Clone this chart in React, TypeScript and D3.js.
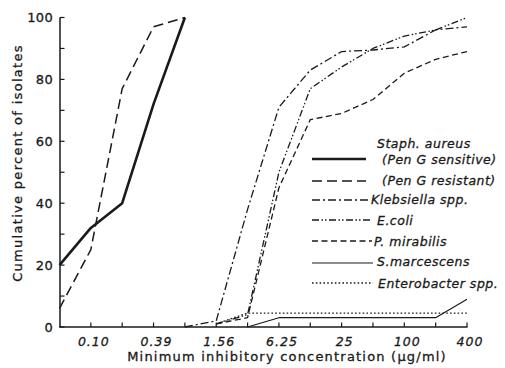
import React from "react";
import * as d3 from "d3";

const concentrations = ["0.05", "0.10", "0.20", "0.39", "0.78", "1.56", "3.12", "6.25", "12.5", "25", "50", "100", "200", "400"];
const xTickLabels = ["0.10", "0.39", "1.56", "6.25", "25", "100", "400"];
const yTicksMajor = [0, 20, 40, 60, 80, 100];
const yTicksMinor = [10, 30, 50, 70, 90];

const staphSensitive = [20, 32, 40, 72, 100, null, null, null, null, null, null, null, null, null];
const staphResistant = [6, 25, 77, 97, 100, null, null, null, null, null, null, null, null, null];
const klebsiella = [null, null, null, null, 0, 2, 38, 71, 83, 89, 89.5, 90.5, 96, 97];
const eColi = [null, null, null, null, null, 1, 4, 50, 77, 84, 90, 94, 96, 100];
const pMirabilis = [null, null, null, null, null, 1, 3, 45, 67, 69, 73.5, 82, 86.5, 89];
const sMarcescens = [null, null, null, null, null, null, 0, 3, 3, 3, 3, 3, 3, 9];
const enterobacter = [null, null, null, null, null, 1, 4.5, 4.5, 4.5, 4.5, 4.5, 4.5, 4.5, 4.5];

const seriesNames = ["Staph. aureus", "(Pen G resistant)", "Klebsiella spp.", "E.coli", "P. mirabilis", "S.marcescens", "Enterobacter spp."];

const INK = "#1a1a1a";

export default function App() {
  const W = 505, H = 368;
  const x = d3.scaleLinear().domain([0, concentrations.length - 1]).range([59.5, 467]);
  const y = d3.scaleLinear().domain([0, 100]).range([327, 17.5]);

  const line = d3
    .line<number | null>()
    .defined((d) => d !== null)
    .x((_, i) => x(i))
    .y((d) => y(d as number));

  const styles = [
    { data: staphSensitive, w: 2.6, dash: "" },
    { data: staphResistant, w: 1.5, dash: "10,5" },
    { data: klebsiella, w: 1.3, dash: "8,3,2,3" },
    { data: eColi, w: 1.3, dash: "7,2.5,1.5,2,1.5,2.5" },
    { data: pMirabilis, w: 1.3, dash: "6,3.5" },
    { data: sMarcescens, w: 1.2, dash: "" },
    { data: enterobacter, w: 1.3, dash: "1.6,2.2" },
  ];

  const font = "'DejaVu Sans', sans-serif";
  const textInk = { fill: INK, stroke: INK, strokeWidth: 0.3 };
  const legend = [
    { lineY: 159, x1: 312, x2: 366, s: 0 },
    { lineY: 181, x1: 312, x2: 366, s: 1 },
    { lineY: 200, x1: 312, x2: 369, s: 2 },
    { lineY: 220, x1: 312, x2: 372, s: 3 },
    { lineY: 241, x1: 312, x2: 372, s: 4 },
    { lineY: 263, x1: 312, x2: 373, s: 5 },
    { lineY: 283, x1: 312, x2: 373, s: 6 },
  ];
  const legendTexts = [
    { t: seriesNames[0], x: 377, y: 148 },
    { t: "(Pen G sensitive)", x: 382, y: 164 },
    { t: seriesNames[1], x: 382, y: 185 },
    { t: seriesNames[2], x: 371, y: 204 },
    { t: seriesNames[3], x: 377, y: 225 },
    { t: seriesNames[4], x: 374, y: 246 },
    { t: seriesNames[5], x: 377, y: 266 },
    { t: seriesNames[6], x: 378, y: 288 },
  ];

  return (
    <svg width={W} height={H} style={{ position: "absolute", left: 0, top: 0, background: "#fff" }}>
      <rect width={W} height={H} fill="#fff" />
      <line x1={60} x2={60} y1={y(100)} y2={y(0)} stroke={INK} strokeWidth={1.5} />
      <line x1={59} x2={467.5} y1={y(0)} y2={y(0)} stroke={INK} strokeWidth={1.5} />
      {concentrations.map((c, i) =>
        i === 0 ? null : (
          <line key={c} x1={x(i)} x2={x(i)} y1={y(0)} y2={y(0) - 4.5} stroke={INK} strokeWidth={1.2} />
        )
      )}
      {[...yTicksMajor, ...yTicksMinor].map((v) => (
        <line key={"yt" + v} x1={60} x2={64.5} y1={y(v)} y2={y(v)} stroke={INK} strokeWidth={1.2} />
      ))}
      {yTicksMajor.map((v) => (
        <text key={"yl" + v} x={53} y={y(v)} dy="0.36em" textAnchor="end" fontFamily={font} fontSize={13} letterSpacing={0.3} {...textInk}>
          {v}
        </text>
      ))}
      {xTickLabels.map((t) => {
        const i = concentrations.indexOf(t);
        return (
          <text key={"xl" + t} x={x(i) + 3} y={346} textAnchor="middle" fontFamily={font} fontStyle="italic" fontSize={12.5} letterSpacing={1} {...textInk}>
            {t}
          </text>
        );
      })}
      <text x={287} y={361} textAnchor="middle" fontFamily={font} fontSize={13} letterSpacing={1.2} {...textInk}>
        Minimum inhibitory concentration (μg/ml)
      </text>
      <text transform="translate(22,163) rotate(-90)" textAnchor="middle" fontFamily={font} fontSize={13} letterSpacing={1.3} {...textInk}>
        Cumulative percent of isolates
      </text>
      {styles.map((s, k) => (
        <path key={"s" + k} d={line(s.data) || ""} fill="none" stroke={INK} strokeWidth={s.w} strokeDasharray={s.dash} strokeLinejoin="round" />
      ))}
      {legend.map((l, k) => (
        <line key={"lg" + k} x1={l.x1} x2={l.x2} y1={l.lineY} y2={l.lineY} stroke={INK} strokeWidth={styles[l.s].w} strokeDasharray={styles[l.s].dash} />
      ))}
      {legendTexts.map((t, k) => (
        <text key={"lt" + k} x={t.x} y={t.y} fontFamily={font} fontStyle="italic" fontSize={12.5} letterSpacing={0.5} {...textInk}>
          {t.t}
        </text>
      ))}
    </svg>
  );
}
